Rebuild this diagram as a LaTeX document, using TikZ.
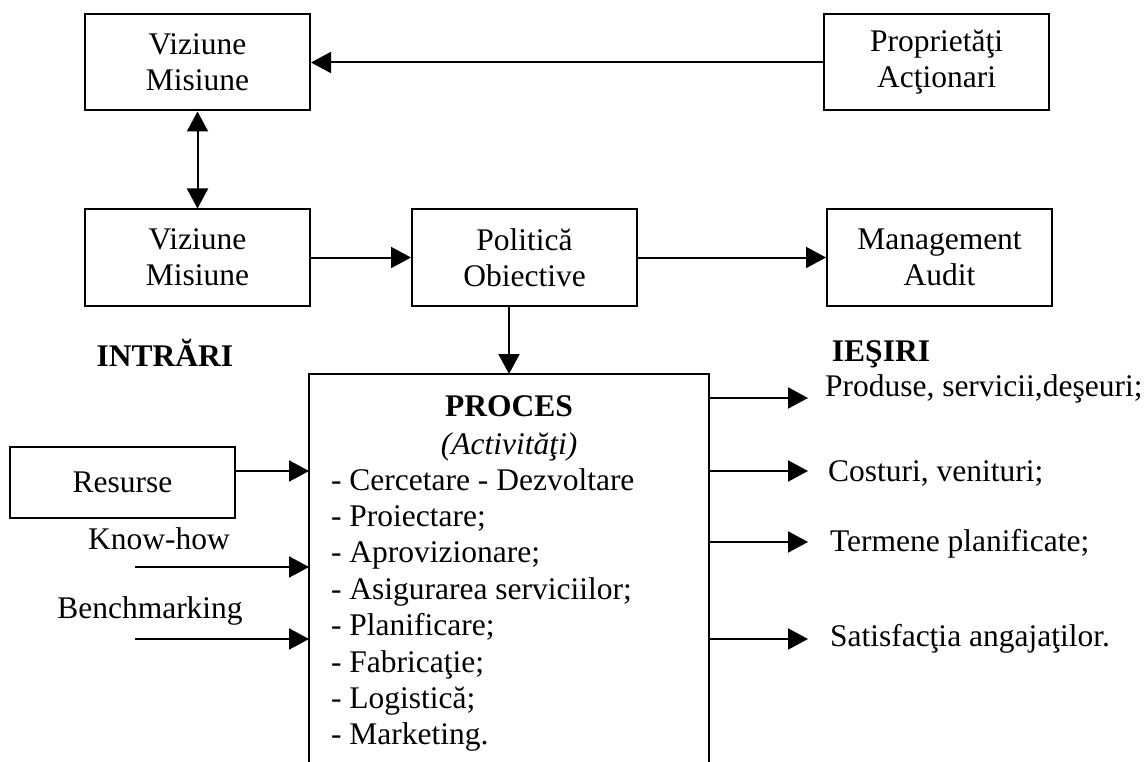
\documentclass[tikz,border=0pt]{standalone}
\usepackage{fontspec}
\setmainfont{Liberation Serif}
\usepackage{tikz}
\usetikzlibrary{positioning, arrows.meta}
\tikzset{box/.style={draw, minimum width=225pt, minimum height=96pt, align=center, inner sep=2pt}}
\tikzset{lbl/.style={align=left, inner sep=3pt}}
\tikzset{hdr/.style={font=\fontsize{31.5}{36}\selectfont\bfseries}}

\begin{document}
\begin{tikzpicture}[x=1pt, y=-1pt, ->, >={Triangle[length=20pt,width=21pt]}, line width=2pt, font=\fontsize{31.5}{36}\selectfont]
	\useasboundingbox (0,0) rectangle (1148,762);
	\node[box] (viz1) at (197.5,62.5) {Viziune\\Misiune};
	\node[box, right=512pt of viz1] (prop) {Proprietăţi\\Acţionari};
	\node[box, below=97pt of viz1] (viz2) {Viziune\\Misiune};
	\node[box, right=100pt of viz2] (pol) {Politică\\Obiective};
	\node[box, right=188pt of pol] (mgmt) {Management\\Audit};
	\node[minimum width=398pt, minimum height=387pt] (proc) at (509,568.5) {};
	\node[align=center, font=\fontsize{31.5}{38}\selectfont] (ptitle) at (509,428) {\textbf{PROCES}\\\textit{(Activităţi)}};
	\node[lbl, anchor=west, font=\fontsize{31.5}{36.4}\selectfont] (plist) at (327,610) {- Cercetare - Dezvoltare\\- Proiectare;\\- Aprovizionare;\\- Asigurarea serviciilor;\\- Planificare;\\- Fabricaţie;\\- Logistică;\\- Marketing.};
	\node[box, minimum height=71pt] (res) at (122.5,482.5) {Resurse};
	\node[hdr] (intr) at (165,353) {INTRĂRI};
	\node[hdr] (iesi) at (881,354) {IEŞIRI};
	\node (kh) at (159,539) {Know-how};
	\node (bm) at (150,611) {Benchmarking};
	\node[lbl, anchor=west] (out1) at (821,389) {Produse, servicii,deşeuri;};
	\node[lbl, anchor=west] (out2) at (824,473) {Costuri, venituri;};
	\node[lbl, anchor=west] (out3) at (826,544) {Termene planificate;};
	\node[lbl, anchor=west] (out4) at (826,639) {Satisfacţia angajaţilor.};
	\coordinate (rin) at ([yshift=11.5pt]res.east);
	\coordinate (khin) at (135,567);
	\coordinate (bmin) at (135,639);
	\coordinate (o1) at (808,398);
	\coordinate (o2) at (808,471);
	\coordinate (o3) at (808,542);
	\coordinate (o4) at (808,639);

	\draw[-] (proc.south west) |- (proc.north east) -- (proc.south east);
	\draw (prop) -- (viz1);
	\draw[<->] (viz1) -- (viz2);
	\draw (viz2) -- (pol);
	\draw (pol) -- (mgmt);
	\draw (pol.south -| proc.north) -- (proc.north);
	\draw (rin) -- (rin -| proc.west);
	\draw (khin) -- (khin -| proc.west);
	\draw (bmin) -- (bmin -| proc.west);
	\draw (o1 -| proc.east) -- (o1);
	\draw (o2 -| proc.east) -- (o2);
	\draw (o3 -| proc.east) -- (o3);
	\draw (o4 -| proc.east) -- (o4);
\end{tikzpicture}
\end{document}
